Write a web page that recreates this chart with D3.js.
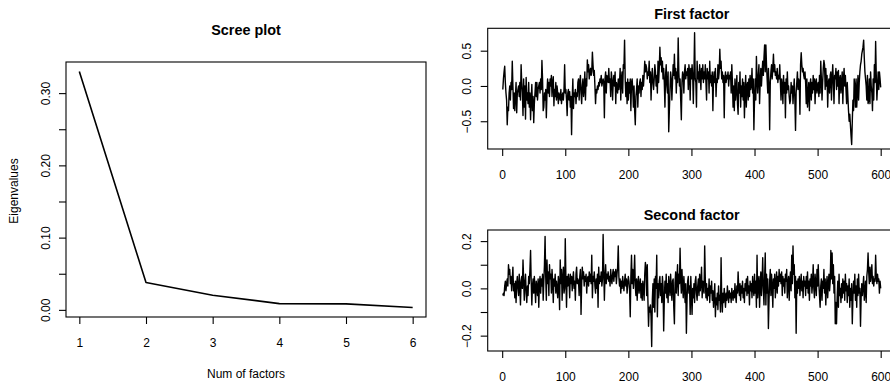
<!DOCTYPE html>
<html>
<head>
<meta charset="utf-8">
<script src="https://cdn.jsdelivr.net/npm/d3@7"></script>
<style>
  html, body { margin: 0; padding: 0; background: #fff; }
  svg { display: block; font-family: "Liberation Sans", Arial, Helvetica, sans-serif; }
</style>
</head>
<body>
<svg id="chart" width="890" height="385"></svg>
<script>
// Scree plot: eigenvalue of each factor
const factorNums = [1, 2, 3, 4, 5, 6];
const eigenvalues = [0.330, 0.0378, 0.0203, 0.0087, 0.0083, 0.0032];
const screeXTicks = [1, 2, 3, 4, 5, 6];
const screeYTicks = [0, 0.05, 0.10, 0.15, 0.20, 0.25, 0.30];
const screeYLabels = [0, 0.10, 0.20, 0.30];

// Factor scores over observations 1..600
const firstFactor = [
  -0.05, 0.1, 0.2, 0.28, 0.05, -0.1, -0.2, -0.55, -0.3, -0.35, -0.1, 0.0, -0.2, 0.05, -0.05, 0.35, 0.0, -0.32, -0.1, -0.35,
  -0.15, 0.05, -0.38, -0.1, -0.05, 0.0, -0.15, 0.05, -0.2, 0.3, 0.05, -0.1, -0.42, 0.1, -0.3, 0.0, -0.47, 0.12, -0.2, -0.1,
  -0.25, 0.05, -0.3, -0.1, -0.48, -0.2, 0.02, -0.35, -0.15, -0.52, -0.25, -0.1, 0.05, -0.15, 0.05, -0.2, -0.05, 0.0, 0.05, -0.1,
  0.1, -0.05, 0.36, 0.1, -0.35, -0.3, -0.1, -0.2, -0.05, -0.45, -0.1, 0.1, -0.1, 0.05, -0.15, 0.1, 0.0, 0.15, -0.15, 0.05,
  0.13, -0.28, -0.05, -0.15, 0.05, -0.2, 0.0, -0.1, -0.25, -0.1, -0.15, -0.2, -0.05, -0.25, -0.15, -0.1, -0.2, -0.05, 0.3, -0.1,
  -0.05, -0.2, -0.42, -0.1, -0.05, -0.2, -0.08, -0.3, -0.15, -0.69, -0.2, 0.1, -0.32, -0.1, -0.15, -0.05, -0.25, -0.1, -0.15, 0.05,
  0.1, -0.2, 0.05, 0.15, -0.1, -0.25, 0.0, 0.1, -0.15, -0.05, 0.2, -0.2, 0.1, 0.0, 0.37, 0.2, 0.3, 0.1, 0.2, 0.25,
  0.15, 0.2, 0.48, 0.3, 0.15, 0.22, 0.0, -0.25, -0.05, -0.1, 0.0, -0.05, 0.05, 0.0, 0.1, 0.05, 0.15, 0.0, 0.05, 0.1,
  0.05, -0.45, 0.1, 0.2, -0.1, 0.15, 0.1, 0.05, 0.25, 0.05, 0.1, -0.15, 0.2, 0.1, -0.2, 0.05, 0.15, 0.0, 0.2, -0.25,
  0.05, 0.0, -0.1, 0.1, -0.05, 0.05, 0.25, -0.2, 0.1, 0.2, -0.1, 0.3, 0.25, 0.65, 0.1, -0.15, 0.05, -0.25, 0.1, -0.2,
  0.05, -0.1, 0.1, -0.35, 0.05, 0.1, -0.05, -0.3, 0.0, -0.35, -0.55, -0.15, -0.05, 0.1, -0.3, 0.0, -0.1, 0.05, 0.1, -0.15,
  0.05, -0.05, 0.15, 0.0, 0.15, 0.35, 0.2, 0.3, 0.25, 0.1, 0.2, 0.15, 0.35, 0.05, 0.2, -0.2, 0.1, 0.25, 0.05, -0.05,
  0.1, 0.3, 0.2, 0.0, 0.15, -0.1, 0.35, 0.05, 0.25, 0.55, 0.3, 0.4, 0.2, 0.35, 0.1, 0.25, 0.05, -0.3, 0.15, 0.3,
  0.0, -0.1, 0.2, -0.65, -0.35, -0.05, 0.2, 0.1, -0.2, 0.05, 0.3, 0.15, 0.45, 0.1, 0.25, -0.1, 0.2, 0.05, 0.68, 0.2,
  0.0, 0.1, -0.2, -0.48, 0.05, 0.2, 0.15, -0.1, 0.2, 0.3, 0.1, 0.2, 0.15, 0.25, -0.05, 0.3, 0.2, -0.2, 0.25, 0.1,
  0.3, 0.15, -0.25, 0.2, 0.754, 0.1, 0.05, -0.3, 0.35, 0.1, 0.2, 0.05, 0.3, 0.15, -0.05, 0.25, 0.1, 0.3, 0.05, 0.2,
  0.1, 0.3, 0.05, -0.2, 0.25, 0.1, 0.2, -0.1, 0.35, 0.05, 0.15, 0.0, 0.2, -0.35, 0.1, 0.2, 0.05, 0.25, -0.15, 0.1,
  0.05, 0.3, 0.1, 0.2, 0.52, 0.25, 0.35, 0.1, 0.2, 0.05, 0.15, -0.45, 0.1, 0.2, 0.05, 0.15, 0.1, 0.2, 0.0, 0.15,
  0.1, 0.2, -0.1, 0.3, 0.05, -0.3, 0.0, -0.35, 0.1, -0.2, -0.05, 0.15, -0.25, -0.4, 0.05, -0.1, 0.2, -0.3, 0.0, -0.15,
  0.1, -0.2, 0.05, -0.45, -0.1, 0.15, -0.3, 0.0, 0.05, -0.2, 0.1, -0.15, 0.15, -0.05, 0.0, 0.25, -0.1, 0.1, -0.62, -0.2,
  0.1, -0.2, 0.42, 0.1, -0.1, 0.15, 0.3, -0.25, 0.05, 0.25, 0.0, 0.2, 0.35, 0.15, 0.4, 0.58, 0.2, 0.58, 0.3, 0.1,
  -0.1, 0.25, 0.0, -0.62, 0.05, 0.2, 0.3, 0.1, 0.25, 0.45, 0.2, 0.3, 0.15, 0.2, 0.1, 0.25, 0.05, 0.15, 0.1, 0.3,
  0.05, -0.2, 0.1, 0.0, -0.25, 0.15, -0.1, 0.05, -0.45, 0.1, -0.1, 0.2, -0.05, 0.0, -0.15, -0.25, -0.2, 0.05, -0.1, 0.0,
  -0.25, -0.05, 0.1, -0.2, -0.63, -0.1, 0.05, 0.2, -0.05, 0.1, 0.05, -0.4, 0.3, 0.47, 0.3, 0.2, 0.25, 0.15, 0.1, 0.2,
  0.05, -0.25, 0.1, -0.3, -0.1, 0.05, -0.35, 0.0, 0.1, -0.2, 0.05, -0.1, 0.15, -0.05, 0.1, -0.25, 0.05, 0.1, -0.1, 0.0,
  0.05, -0.15, 0.15, -0.1, 0.35, 0.1, -0.2, 0.05, 0.25, 0.36, 0.3, -0.05, 0.25, 0.0, 0.15, -0.3, 0.05, 0.1, -0.1, 0.15,
  0.2, -0.2, 0.1, 0.3, 0.05, -0.25, 0.15, 0.1, 0.25, -0.05, 0.2, 0.0, 0.22, -0.25, 0.1, 0.15, -0.1, 0.05, 0.2, -0.25,
  0.1, 0.25, 0.0, 0.15, -0.05, -0.25, 0.05, -0.15, -0.35, -0.5, -0.4, -0.55, -0.7, -0.83, -0.5, -0.2, -0.35, 0.1, 0.0, -0.3,
  0.1, -0.3, -0.1, 0.15, -0.2, 0.05, 0.2, 0.3, 0.35, 0.45, 0.5, 0.55, 0.65, 0.4, 0.2, 0.1, 0.0, -0.2, 0.15, -0.25,
  -0.2, 0.1, -0.25, 0.2, 0.0, -0.1, -0.35, 0.1, -0.2, 0.3, 0.05, 0.63, 0.15, -0.2, 0.0, 0.2, -0.05, 0.2, 0.1, -0.02
];

const secondFactor = [
  -0.03, -0.02, -0.03, 0.01, 0.03, -0.01, 0.02, 0.04, 0.01, 0.1, 0.06, 0.08, 0.02, 0.05, -0.01, 0.04, 0.09, -0.01, 0.02, -0.04,
  0.03, -0.06, 0.02, 0.05, 0.0, -0.03, 0.06, 0.01, -0.07, 0.03, 0.05, 0.0, 0.12, 0.04, -0.05, 0.02, 0.06, -0.02, -0.06, 0.01,
  -0.03, 0.05, 0.02, 0.08, 0.16, 0.03, -0.07, 0.01, 0.04, -0.02, 0.05, 0.0, -0.06, 0.03, 0.01, -0.03, 0.04, -0.08, 0.02, 0.05,
  -0.02, 0.04, 0.01, 0.06, -0.05, 0.03, 0.1, 0.22, 0.05, -0.05, 0.12, 0.02, 0.07, -0.03, 0.1, 0.04, 0.06, -0.02, 0.08, 0.03,
  -0.06, 0.04, 0.01, 0.06, -0.02, 0.03, 0.0, -0.04, 0.05, 0.02, -0.09, 0.12, 0.02, 0.08, -0.05, 0.04, 0.09, -0.02, 0.0, 0.21,
  0.04, -0.08, 0.05, 0.01, 0.06, 0.03, -0.04, 0.06, 0.02, 0.05, -0.01, 0.04, 0.07, 0.0, 0.03, -0.05, 0.06, 0.09, 0.02, 0.04,
  0.03, -0.03, 0.05, 0.08, -0.11, 0.02, 0.09, 0.04, 0.07, 0.01, 0.05, 0.03, 0.06, -0.02, 0.04, 0.05, 0.01, 0.07, 0.03, 0.06,
  0.02, 0.14, -0.04, 0.05, 0.03, 0.07, 0.01, -0.02, 0.04, 0.0, 0.06, -0.08, 0.09, 0.02, 0.05, 0.03, 0.07, 0.01, 0.04, 0.228,
  0.08, -0.05, 0.05, 0.1, 0.02, 0.06, 0.04, 0.07, 0.03, 0.05, 0.01, 0.08, 0.04, 0.02, 0.06, 0.08, 0.03, 0.07, 0.05, 0.08,
  0.02, 0.06, 0.09, 0.18, 0.05, 0.01, 0.04, -0.02, 0.03, 0.0, 0.05, 0.02, -0.01, 0.03, 0.06, 0.01, 0.04, -0.02, 0.02, 0.05,
  0.03, -0.01, -0.12, 0.05, 0.14, 0.02, 0.08, 0.0, 0.06, 0.14, 0.01, -0.03, 0.04, -0.05, 0.02, 0.05, -0.02, 0.01, 0.04, -0.04,
  0.02, -0.05, 0.03, 0.0, -0.05, 0.06, 0.11, 0.08, -0.03, 0.1, -0.05, -0.16, -0.08, -0.1, -0.07, -0.12, -0.246, -0.05, 0.02, -0.08,
  0.04, -0.1, 0.05, 0.0, 0.14, -0.12, 0.02, -0.04, 0.03, 0.05, -0.03, 0.02, -0.06, 0.05, 0.01, -0.18, -0.05, 0.03, -0.02, 0.06,
  -0.04, 0.02, -0.06, 0.05, 0.01, -0.03, 0.06, 0.0, -0.05, 0.03, 0.04, -0.08, -0.15, 0.02, 0.07, -0.02, 0.04, 0.1, -0.03, 0.06,
  0.02, 0.17, 0.04, -0.02, 0.08, 0.01, -0.04, 0.05, 0.0, -0.06, 0.02, -0.19, -0.05, 0.03, 0.05, -0.02, 0.01, -0.11, 0.05, -0.03,
  -0.11, 0.0, -0.04, 0.02, -0.06, 0.03, 0.05, -0.02, -0.05, 0.01, 0.04, -0.03, 0.06, -0.01, 0.02, 0.09, -0.04, 0.03, 0.0, -0.02,
  0.18, 0.04, -0.04, 0.02, -0.05, 0.0, -0.03, 0.04, -0.06, 0.01, -0.02, 0.03, -0.05, -0.01, -0.08, -0.03, 0.02, -0.12, -0.04, -0.07,
  -0.02, -0.09, 0.01, -0.05, -0.03, -0.1, 0.13, -0.04, -0.1, -0.02, -0.06, 0.0, -0.04, -0.08, -0.02, -0.05, 0.01, -0.03, -0.06, -0.01,
  -0.04, -0.02, -0.06, 0.0, -0.03, -0.05, -0.01, -0.04, 0.02, -0.03, -0.06, 0.01, -0.02, 0.07, 0.0, -0.03, 0.02, -0.05, 0.01, -0.02,
  0.03, -0.04, 0.0, -0.06, 0.02, -0.01, 0.04, -0.03, 0.05, -0.02, 0.01, -0.07, 0.03, -0.01, 0.02, -0.04, 0.05, 0.0, -0.03, 0.06,
  -0.02, 0.03, -0.08, 0.14, -0.04, 0.02, 0.05, -0.08, 0.01, 0.07, -0.03, 0.03, 0.13, 0.0, -0.07, 0.04, 0.15, -0.07, 0.06, -0.02,
  0.04, -0.17, -0.05, 0.03, 0.08, -0.03, 0.06, 0.01, -0.08, 0.04, 0.0, 0.06, -0.04, 0.02, 0.07, -0.02, 0.05, 0.01, 0.08, 0.03,
  0.06, 0.02, 0.07, -0.03, 0.05, 0.01, 0.04, -0.02, 0.06, 0.03, 0.08, -0.04, 0.02, 0.05, -0.05, 0.03, 0.07, -0.01, 0.14, 0.02,
  0.18, 0.06, 0.1, -0.04, 0.05, -0.19, 0.03, -0.02, 0.04, 0.0, 0.05, -0.03, 0.02, 0.06, -0.01, 0.03, -0.04, 0.05, 0.01, 0.03,
  -0.03, 0.05, 0.0, 0.07, -0.02, 0.03, -0.05, 0.04, 0.01, 0.06, -0.02, 0.02, 0.1, 0.0, -0.04, 0.06, 0.02, -0.03, 0.08, 0.01,
  0.1, 0.02, -0.03, -0.08, 0.01, 0.04, -0.05, 0.03, 0.0, 0.08, -0.02, 0.04, -0.07, 0.01, 0.05, -0.04, 0.02, 0.06, -0.01, 0.03,
  0.16, 0.04, 0.15, 0.02, 0.1, -0.02, 0.05, -0.15, -0.06, -0.15, -0.04, 0.03, -0.08, 0.06, -0.03, 0.0, -0.06, 0.02, -0.04, 0.04,
  -0.02, 0.03, -0.05, 0.06, -0.01, 0.02, -0.06, 0.01, -0.03, 0.04, -0.08, 0.0, -0.05, 0.02, -0.15, -0.04, 0.03, -0.02, 0.06, -0.05,
  0.01, -0.08, 0.04, -0.03, 0.06, -0.02, 0.0, -0.16, -0.04, 0.02, -0.03, 0.01, 0.05, -0.05, -0.02, 0.03, -0.06, 0.05, 0.08, 0.15,
  0.07, 0.02, 0.09, 0.03, 0.06, 0.1, 0.02, 0.05, 0.01, 0.04, 0.03, 0.14, 0.05, 0.02, 0.06, 0.03, 0.04, -0.02, 0.03, 0.0
];

const seriesXTicks = [0, 100, 200, 300, 400, 500, 600];
const firstYTicks = [-0.5, 0, 0.5];
const firstYLabels = [-0.5, 0, 0.5];
const secondYTicks = [-0.2, -0.1, 0, 0.1, 0.2];
const secondYLabels = [-0.2, 0, 0.2];

const svg = d3.select("#chart");
const fmt1 = d3.format(".1f");
const fmt2 = d3.format(".2f");

// Axis limits padded by 4% on each side
function padded(ext) {
  const r = ext[1] - ext[0];
  return [ext[0] - 0.04 * r, ext[1] + 0.04 * r];
}

function panel(opts) {
  const { box, xs, ys, title, titleY, xTicks, yTicks, yLabels, yFmt, xLabelY, yLabelX, lineWidth } = opts;
  const g = svg.append("g");
  const x = d3.scaleLinear().domain(padded(d3.extent(xs))).range([box.x0, box.x1]);
  const y = d3.scaleLinear().domain(padded(d3.extent(ys))).range([box.y1, box.y0]);

  // data line
  g.append("path")
    .datum(xs.map((v, i) => [v, ys[i]]))
    .attr("fill", "none")
    .attr("stroke", "#000")
    .attr("stroke-width", lineWidth)
    .attr("stroke-linejoin", "round")
    .attr("d", d3.line().x(d => x(d[0])).y(d => y(d[1])));

  // frame
  g.append("rect")
    .attr("x", box.x0).attr("y", box.y0)
    .attr("width", box.x1 - box.x0).attr("height", box.y1 - box.y0)
    .attr("fill", "none").attr("stroke", "#000").attr("stroke-width", 1.1);

  // x axis
  const xa = g.append("g").attr("transform", `translate(0,${box.y1})`)
    .call(d3.axisBottom(x).tickValues(xTicks).tickSize(7).tickSizeOuter(0).tickPadding(xLabelY).tickFormat(d3.format("d")));
  xa.select(".domain").remove();
  xa.selectAll("line").attr("stroke", "#000").attr("stroke-width", 1.1);
  xa.selectAll("text").attr("fill", "#000").style("font-size", "12px").style("font-family", null);

  // y axis with rotated labels
  const ya = g.append("g").attr("transform", `translate(${box.x0},0)`)
    .call(d3.axisLeft(y).tickValues(yTicks).tickSize(7).tickSizeOuter(0)
      .tickFormat(d => yLabels.some(l => Math.abs(l - d) < 1e-9) ? yFmt(d) : ""));
  ya.select(".domain").remove();
  ya.selectAll("line").attr("stroke", "#000").attr("stroke-width", 1.1);
  ya.selectAll("text")
    .attr("x", null).attr("dy", null)
    .attr("text-anchor", "middle")
    .attr("transform", `translate(${-yLabelX},0) rotate(-90)`)
    .attr("fill", "#000").style("font-size", "12px").style("font-family", null);

  // title
  svg.append("text")
    .attr("x", (box.x0 + Math.min(box.x1, 890) + (box.x1 > 890 ? box.x1 - 890 : 0)) / 2)
    .attr("y", titleY)
    .attr("text-anchor", "middle")
    .style("font-size", "14.4px").style("font-weight", "bold")
    .text(title);
  return { x, y };
}

// Left: scree plot
panel({
  box: { x0: 66, x1: 426, y0: 62, y1: 317 },
  xs: factorNums, ys: eigenvalues,
  title: "Scree plot", titleY: 35,
  xTicks: screeXTicks, yTicks: screeYTicks, yLabels: screeYLabels, yFmt: fmt2,
  xLabelY: 14, yLabelX: 16.5, lineWidth: 1.6
});
svg.append("text").attr("x", 246).attr("y", 378).attr("text-anchor", "middle")
  .style("font-size", "12px").text("Num of factors");
svg.append("text").attr("transform", "translate(17.5,191) rotate(-90)").attr("text-anchor", "middle")
  .style("font-size", "12px").text("Eigenvalues");

// Right: factor score series
const obs = firstFactor.map((_, i) => i + 1);
panel({
  box: { x0: 487.7, x1: 895.8, y0: 28.3, y1: 149 },
  xs: obs, ys: firstFactor,
  title: "First factor", titleY: 18.5,
  xTicks: seriesXTicks, yTicks: firstYTicks, yLabels: firstYLabels, yFmt: fmt1,
  xLabelY: 14, yLabelX: 16.5, lineWidth: 1.4
});
const obs2 = secondFactor.map((_, i) => i + 1);
panel({
  box: { x0: 487.7, x1: 895.8, y0: 230, y1: 351 },
  xs: obs2, ys: secondFactor,
  title: "Second factor", titleY: 220,
  xTicks: seriesXTicks, yTicks: secondYTicks, yLabels: secondYLabels, yFmt: fmt1,
  xLabelY: 14, yLabelX: 16.5, lineWidth: 1.4
});
</script>
</body>
</html>
